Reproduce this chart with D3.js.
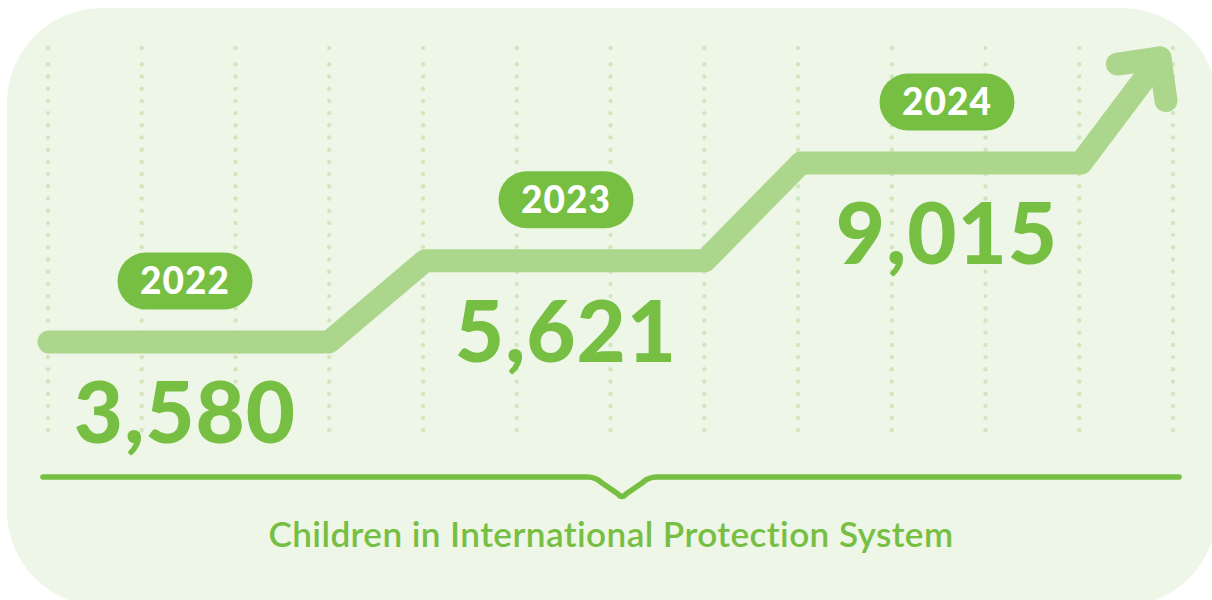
<!DOCTYPE html>
<html>
<head>
<meta charset="utf-8">
<script src="https://cdn.jsdelivr.net/npm/d3@7"></script>
<style>
  html, body { margin: 0; padding: 0; background: #ffffff; }
  svg { display: block; }
</style>
</head>
<body>
<svg id="chart" width="1212" height="600"></svg>
<script>
// Children in the International Protection System, by year
const years = ["2022", "2023", "2024"];
const children = [3580, 5621, 9015];
const caption = "Children in International Protection System";

const W = 1212, H = 600;
const GREEN = "#76bf43";
const STEP = "#acd68b";
const PANEL = "#eef6e7";
const DOT = "#d0e7bd";

const svg = d3.select("#chart");

// Rounded background panel
svg.append("rect")
  .attr("x", 7).attr("y", 8)
  .attr("width", 1210).attr("height", 598)
  .attr("rx", 95).attr("ry", 95)
  .attr("fill", PANEL);

// Dotted vertical guides
const gx = d3.scaleLinear().domain([0, 12]).range([48, 1173]);
const dotRows = [48].concat(d3.range(31).map(i => 64.3 + i * 12.2));
const guides = svg.append("g");
d3.range(13).forEach(i => {
  guides.append("g").selectAll("circle")
    .data(dotRows)
    .join("circle")
    .attr("cx", gx(i))
    .attr("cy", d => d)
    .attr("r", 2.2)
    .attr("fill", DOT);
});

// Scales: step centre per year, label centre per year, and level per value
const x = d3.scalePoint().domain(years).range([189, 941]);
const labelX = d3.scalePoint().domain(years).range([185, 947]);
const y = d3.scalePow().exponent(0.3).domain(d3.extent(children)).range([342, 163]);

const halfStep = 140;
const data = years.map((yr, i) => ({ year: yr, value: children[i] }));

// Step line: one flat run per year, joined by rising diagonals, ending in an arrow
const pts = [];
data.forEach(d => {
  pts.push([x(d.year) - halfStep, y(d.value)]);
  pts.push([x(d.year) + halfStep, y(d.value)]);
});
const last = pts[pts.length - 1];
const rise = [79, -105];
const tip = [last[0] + rise[0], last[1] + rise[1]];
pts.push(tip);

const lineGen = d3.line();
svg.append("path")
  .attr("d", lineGen(pts))
  .attr("fill", "none")
  .attr("stroke", STEP)
  .attr("stroke-width", 23)
  .attr("stroke-linecap", "round")
  .attr("stroke-linejoin", "round");

// Arrow head
const back = Math.atan2(-rise[1], -rise[0]);
const armLen = 43, spread = Math.PI / 4;
const arm = a => [tip[0] + armLen * Math.cos(a), tip[1] + armLen * Math.sin(a)];
svg.append("path")
  .attr("d", lineGen([arm(back + spread), tip, arm(back - spread)]))
  .attr("fill", "none")
  .attr("stroke", STEP)
  .attr("stroke-width", 23)
  .attr("stroke-linecap", "round")
  .attr("stroke-linejoin", "round");

// Year pills
const pillW = 135, pillH = 57, pillLift = 61;
const pills = svg.append("g").selectAll("g")
  .data(data)
  .join("g")
  .attr("transform", d => `translate(${labelX(d.year)},${y(d.value) - pillLift})`);
pills.append("rect")
  .attr("x", -pillW / 2).attr("y", -pillH / 2)
  .attr("width", pillW).attr("height", pillH)
  .attr("rx", pillH / 2)
  .attr("fill", GREEN);
pills.append("text")
  .attr("y", 13)
  .attr("text-anchor", "middle")
  .attr("fill", "#ffffff")
  .attr("font-family", "Lato, sans-serif")
  .attr("font-weight", 900)
  .attr("font-size", 37)
  .attr("letter-spacing", 1)
  .text(d => d.year);

// Big value labels
const fmt = d3.format(",");
svg.append("g").selectAll("text")
  .data(data)
  .join("text")
  .attr("x", d => labelX(d.year))
  .attr("y", d => y(d.value) + 101)
  .attr("text-anchor", "middle")
  .attr("fill", GREEN)
  .attr("font-family", "Lato, sans-serif")
  .attr("font-weight", 900)
  .attr("font-size", 85)
  .attr("letter-spacing", 1)
  .text(d => fmt(d.value));

// Bracket with a notch beneath the series
const bY = 477, bL = 43, bR = 1179, nX = 622, nDepth = 21, nHalf = 29;
const br = d3.path();
br.moveTo(bL, bY);
br.lineTo(nX - nHalf - 6, bY);
br.quadraticCurveTo(nX - nHalf + 3, bY, nX - nHalf + 9, bY + 6);
br.lineTo(nX - 4, bY + nDepth - 4);
br.quadraticCurveTo(nX, bY + nDepth + 1, nX + 4, bY + nDepth - 4);
br.lineTo(nX + nHalf - 9, bY + 6);
br.quadraticCurveTo(nX + nHalf - 3, bY, nX + nHalf + 6, bY);
br.lineTo(bR, bY);
svg.append("path")
  .attr("d", br.toString())
  .attr("fill", "none")
  .attr("stroke", GREEN)
  .attr("stroke-width", 5.5)
  .attr("stroke-linecap", "round")
  .attr("stroke-linejoin", "round");

// Caption, sized to span the bracket's middle
const cap = svg.append("text")
  .attr("x", 611)
  .attr("y", 547)
  .attr("text-anchor", "middle")
  .attr("fill", GREEN)
  .attr("font-family", "Lato, sans-serif")
  .attr("font-weight", 600)
  .attr("font-size", 32)
  .attr("letter-spacing", 0.4)
  .style("font-variant-ligatures", "none")
  .style("font-feature-settings", "'liga' 0, 'dlig' 0")
  .text(caption);
const capW = cap.node().getComputedTextLength();
cap.attr("font-size", 32 * 687 / capW);
</script>
</body>
</html>
